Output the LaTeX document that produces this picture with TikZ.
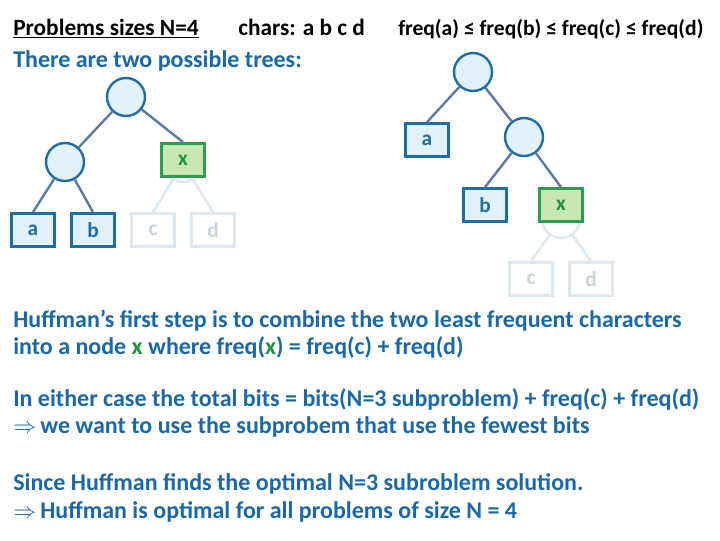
\documentclass[tikz,border=0pt]{standalone}
\usepackage{fontspec}
\setmainfont{Carlito}
\definecolor{txtblue}{HTML}{1A68A8}
\definecolor{nodeborder}{HTML}{1F6EA6}
\definecolor{nodefill}{HTML}{E2F1FA}
\definecolor{edgecol}{HTML}{5A7AA2}
\definecolor{xfill}{HTML}{C8E6B2}
\definecolor{xborder}{HTML}{2E9D52}
\definecolor{xtext}{HTML}{1E9242}
\definecolor{fadeborder}{HTML}{DCE8F1}
\definecolor{fadetext}{HTML}{C5D5E0}
\tikzset{
  inode/.style={circle, draw=nodeborder, fill=nodefill, line width=1.8pt, minimum size=28.5pt, inner sep=0pt},
  fnode/.style={circle, draw=fadeborder, fill=white, line width=1.8pt, minimum size=28.5pt, inner sep=0pt},
  leafbase/.style={rectangle, line width=1.8pt, minimum width=32pt, minimum height=25pt, inner sep=0pt, font=\bfseries\fontsize{16pt}{16pt}\selectfont},
  leaf/.style={leafbase, draw=nodeborder, fill=nodefill, text=nodeborder},
  fleaf/.style={leafbase, draw=fadeborder, fill=white, text=fadetext},
  xleaf/.style={leafbase, draw=xborder, fill=xfill, text=xtext},
  edge/.style={draw=edgecol, line width=1.8pt},
  fedge/.style={draw=fadeborder, line width=1.8pt},
  hdr/.style={anchor=base west, inner sep=0pt, font=\bfseries\fontsize{17.5pt}{20pt}\selectfont},
  body/.style={anchor=base west, inner sep=0pt, text=txtblue, font=\bfseries\fontsize{18pt}{22pt}\selectfont},
}
\begin{document}
\begin{tikzpicture}[x=0.75pt, y=-0.75pt]
\useasboundingbox (0,0) rectangle (720,540);
% header
\node[hdr] (h1) at (13,35) {\underline{Problems sizes N=4}};
\node[hdr] (h2) at (238,35) {chars: a b c d};
\node[hdr, font=\bfseries\fontsize{16.2pt}{20pt}\selectfont] (h3) at (398,35) {freq(a) ≤ freq(b) ≤ freq(c) ≤ freq(d)};
\node[hdr, text=txtblue, font=\bfseries\fontsize{18pt}{20pt}\selectfont] (h4) at (13,67) {There are two possible trees:};
% left tree
\node[fnode] (lf) at (183,163) {};
\node[fleaf] (lc) at (153,230) {c};
\node[fleaf] (ld) at (213,230) {d};
\draw[fedge] (lf) -- (lc.north);
\draw[fedge] (lf) -- (ld.north);
\node[inode] (lr) at (126,97) {};
\node[inode] (lm) at (65,162) {};
\node[xleaf] (lx) at (183,160) {x};
\node[leaf] (la) at (33,230) {a};
\node[leaf] (lb) at (93,230) {b};
\draw[edge] (lr) -- (lm);
\draw[edge] (lr) -- (lx.north);
\draw[edge] (lm) -- (la.north);
\draw[edge] (lm) -- (lb.north);
% right tree
\node[fnode] (rf) at (561,219) {};
\node[fleaf] (rc) at (531,279) {c};
\node[fleaf] (rd) at (591,279) {d};
\draw[fedge] (rf) -- (rc.north);
\draw[fedge] (rf) -- (rd.north);
\node[inode] (rr) at (473,72) {};
\node[leaf] (ra) at (427,140) {a};
\node[inode] (rm) at (524,137) {};
\node[leaf] (rb) at (485,205) {b};
\node[xleaf] (rx) at (561,205) {x};
\draw[edge] (rr) -- (ra.north);
\draw[edge] (rr) -- (rm);
\draw[edge] (rm) -- (rb.north);
\draw[edge] (rm) -- (rx.north);
% body text
\node[body] (t1) at (13,327) {Huffman's first step is to combine the two least frequent characters};
\node[body] (t2) at (13,354) {into a node \textcolor{xtext}{x} where freq(\textcolor{xtext}{x}) = freq(c) + freq(d)};
\node[body] (t3) at (13,406) {In either case the total bits = bits(N=3 subproblem) + freq(c) + freq(d)};
\node[body] (t4) at (13,433) {$\Rightarrow$\,we want to use the subprobem that use the fewest bits};
\node[body] (t5) at (13,490) {Since Huffman finds the optimal N=3 subroblem solution.};
\node[body] (t6) at (13,518) {$\Rightarrow$\,Huffman is optimal for all problems of size N = 4};
\end{tikzpicture}
\end{document}
